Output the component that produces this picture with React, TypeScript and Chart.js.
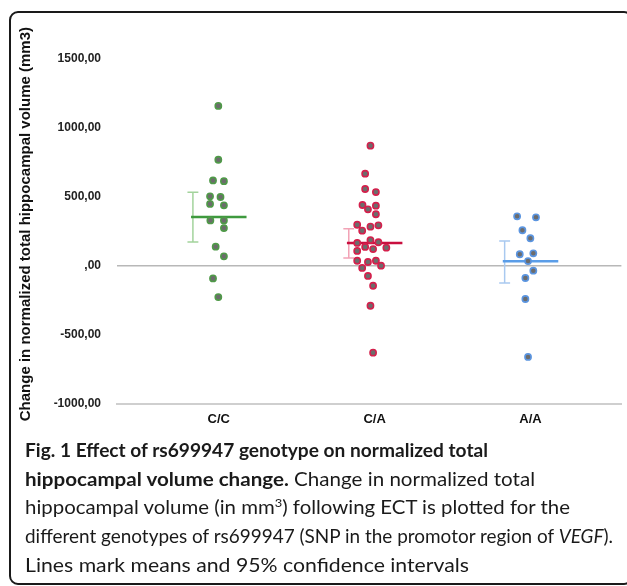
import React, { useEffect, useRef } from "react";
import { Chart, registerables } from "chart.js";

Chart.register(...registerables);

// ---------- data ----------
const genotypes = ["C/C", "C/A", "A/A"];

const ccValues = [1160, 770, 620, 615, 505, 500, 450, 440, 330, 330, 275, 140, 70, -90, -225];
const ccJitter = [-0.003, -0.003, -0.037, 0.033, -0.056, 0.011, -0.056, 0.033, -0.054, 0.033, 0.033, -0.02, 0.033, -0.037, -0.003];

const caValues = [872, 669, 558, 536, 442, 411, 437, 375, 299, 256, 285, 295, 167, 188, 172, 138, 123, 133, 109, 38, 29, 38, -14, 2, -72, -143, -288, -628];
const caJitter = [-0.027, -0.061, -0.061, 0.008, -0.078, -0.043, 0.008, 0.008, -0.112, -0.08, -0.027, 0.024, -0.112, -0.027, 0.024, -0.061, -0.01, 0.075, -0.112, -0.112, -0.043, 0.008, -0.08, 0.041, -0.043, -0.01, -0.027, -0.01];

const aaValues = [360, 353, 259, 201, 85, 92, 36, -34, -87, -239, -659];
const aaJitter = [-0.086, 0.035, -0.052, -0.001, -0.069, 0.018, -0.016, 0.018, -0.033, -0.033, -0.016];

const groupMeans = [355, 167, 34];
const ciLow = [174, 58, -123];
const ciHigh = [534, 270, 181];

const yTicks = [-1000, -500, 0, 500, 1000, 1500];
const yTitle = "Change in normalized total hippocampal volume (mm3)";

// ---------- styles ----------
const dotBorder = ["#4f9a48", "#d4204c", "#5b95e0"];
const meanColor = ["#3e9a3e", "#c90f3f", "#5a9de8"];
const ciColor = ["#a3d39c", "#f2a3b6", "#a9c9f0"];

const fmtTick = (v: number) => (v === 0 ? ",00" : `${v},00`);

function ChartCanvas() {
  const ref = useRef<HTMLCanvasElement | null>(null);
  useEffect(() => {
    if (!ref.current) return;
    const values = [ccValues, caValues, aaValues];
    const jitters = [ccJitter, caJitter, aaJitter];
    const datasets: any[] = [];
    values.forEach((vals, i) => {
      datasets.push({
        type: "scatter",
        label: genotypes[i],
        data: vals.map((v, j) => ({ x: i + 1 + jitters[i][j], y: v })),
        pointRadius: 3.1,
        pointBorderWidth: 1.6,
        pointBackgroundColor: "#6c6c6c",
        pointBorderColor: dotBorder[i],
        order: 0,
      });
    });
    genotypes.forEach((g, i) => {
      const c = i + 1;
      datasets.push({
        type: "scatter",
        label: g + " mean",
        showLine: true,
        data: [
          { x: c - 0.178, y: groupMeans[i] },
          { x: c + 0.178, y: groupMeans[i] },
        ],
        borderColor: meanColor[i],
        borderWidth: 2.5,
        pointRadius: 0,
        order: 2,
      });
      const ex = c - 0.166;
      const cw = 0.035;
      datasets.push({
        type: "scatter",
        label: g + " ci",
        showLine: true,
        spanGaps: false,
        data: [
          { x: ex - cw, y: ciHigh[i] },
          { x: ex + cw, y: ciHigh[i] },
          { x: ex, y: null },
          { x: ex, y: ciHigh[i] },
          { x: ex, y: ciLow[i] },
          { x: ex, y: null },
          { x: ex - cw, y: ciLow[i] },
          { x: ex + cw, y: ciLow[i] },
        ],
        borderColor: ciColor[i],
        borderWidth: 1.5,
        pointRadius: 0,
        order: 3,
      });
    });

    const titlePlugin = {
      id: "ytitle",
      afterDraw(chart: any) {
        const ctx = chart.ctx;
        ctx.save();
        ctx.font = 'bold 15px "Liberation Sans", Arial, sans-serif';
        const w = ctx.measureText(yTitle).width;
        ctx.translate(26, 27 + w / 2);
        ctx.rotate(-Math.PI / 2);
        ctx.textAlign = "center";
        ctx.textBaseline = "middle";
        ctx.fillStyle = "#111";
        ctx.fillText(yTitle, 0, 0);
        ctx.restore();
      },
    };

    const chart = new Chart(ref.current, {
      type: "scatter",
      data: { datasets },
      plugins: [titlePlugin],
      options: {
        animation: false,
        responsive: false,
        layout: { padding: { top: 59, right: 2, left: 0, bottom: 0 } },
        plugins: { legend: { display: false }, tooltip: { enabled: false } },
        scales: {
          x: {
            type: "linear",
            min: 0.347,
            max: 3.583,
            afterBuildTicks: (s: any) => {
              s.ticks = genotypes.map((_, i) => ({ value: i + 1 }));
            },
            afterFit: (s: any) => {
              s.height = 36;
            },
            ticks: {
              callback: (v: any) => genotypes[Math.round(v) - 1],
              font: { family: '"Liberation Sans", Arial, sans-serif', weight: "bold", size: 13 },
              color: "#111",
              padding: 8,
              autoSkip: false,
              maxRotation: 0,
            },
            grid: { display: false, drawTicks: false },
            border: { display: true, color: "#cfcfcf", width: 2 },
          },
          y: {
            min: -1000,
            max: 1500,
            afterBuildTicks: (s: any) => {
              s.ticks = yTicks.map((v) => ({ value: v }));
            },
            afterFit: (s: any) => {
              s.width = 117;
            },
            ticks: {
              callback: (v: any) => fmtTick(v),
              font: { family: '"Liberation Sans", Arial, sans-serif', weight: "bold", size: 12 },
              color: "#222",
              padding: 16,
            },
            grid: {
              drawTicks: false,
              lineWidth: 1.5,
              color: (ctx: any) => (ctx.tick && ctx.tick.value === 0 ? "#b8b8b8" : "rgba(0,0,0,0)"),
            },
            border: { display: false },
          },
        },
      } as any,
    });
    return () => chart.destroy();
  }, []);
  return (
    <canvas
      ref={ref}
      width={627}
      height={440}
      style={{ position: "absolute", left: 0, top: 0, width: 627, height: 440 }}
    />
  );
}

const captionFont = 'Lato, "Open Sans", sans-serif';

function FitLine({ top, left, target, children }: { top: number; left: number; target: number; children: any }) {
  const ref = useRef<HTMLDivElement | null>(null);
  useEffect(() => {
    const fit = () => {
      const el = ref.current;
      if (!el) return;
      el.style.transform = "none";
      const w = el.getBoundingClientRect().width;
      if (w > 0) el.style.transform = `scaleX(${target / w})`;
    };
    fit();
    if ((document as any).fonts && (document as any).fonts.ready) {
      (document as any).fonts.ready.then(fit);
    }
  }, [target]);
  return (
    <div
      ref={ref}
      style={{
        position: "absolute",
        left,
        top,
        whiteSpace: "nowrap",
        transformOrigin: "0 0",
        fontFamily: captionFont,
        fontSize: 19,
        lineHeight: "28px",
        color: "#1a1a1a",
        display: "inline-block",
      }}
    >
      {children}
    </div>
  );
}

export default function App() {
  const lineTop = (i: number) => 436 + i * 28.7;
  return (
    <div
      style={{
        position: "absolute",
        left: 0,
        top: 0,
        width: 627,
        height: 586,
        overflow: "hidden",
        background: "#fff",
      }}
    >
      <div
        style={{
          position: "absolute",
          left: 9,
          top: 11,
          width: 624,
          height: 574,
          boxSizing: "border-box",
          border: "2.5px solid #1a1a1a",
          borderRadius: 9,
        }}
      />
      <ChartCanvas />
      <FitLine top={lineTop(0)} left={25} target={463}>
        <b>Fig. 1 Effect of rs699947 genotype on normalized total</b>
      </FitLine>
      <FitLine top={lineTop(1)} left={25} target={510}>
        <b>hippocampal volume change.</b> Change in normalized total
      </FitLine>
      <FitLine top={lineTop(2)} left={25} target={545}>
        hippocampal volume (in mm<sup style={{ fontSize: 12, lineHeight: 0 }}>3</sup>) following ECT is plotted for the
      </FitLine>
      <FitLine top={lineTop(3)} left={25} target={588}>
        different genotypes of rs699947 (SNP in the promotor region of <i>VEGF</i>).
      </FitLine>
      <FitLine top={lineTop(4)} left={25} target={444}>
        Lines mark means and 95% confidence intervals
      </FitLine>
    </div>
  );
}
